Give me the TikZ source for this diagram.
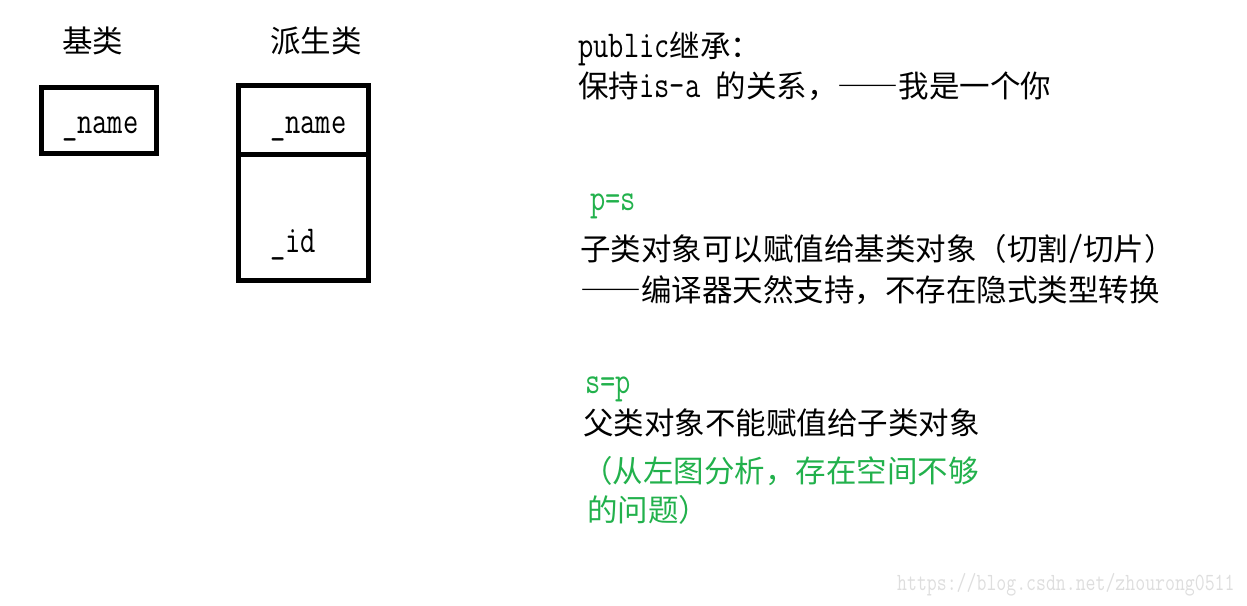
\documentclass[tikz,border=0pt]{standalone}
\usepackage{fontspec}
\setmainfont{Noto Sans CJK SC}
\setmonofont{Latin Modern Mono}[FakeStretch=0.78]
\definecolor{pgreen}{RGB}{34,177,76}
\newcommand{\tcode}[1]{{\ttfamily\fontsize{38}{40}\selectfont #1}}
\newcommand{\fdash}{{\addfontfeatures{RawFeature=+fwid}——}}
\tikzset{
	lbl/.style={anchor=base west,inner sep=0pt,font=\fontsize{30.5}{36}\selectfont},
	code/.style={anchor=base west,inner sep=0pt,font=\ttfamily\fontsize{38}{40}\selectfont},
	box/.style={line width=5pt},
}
\begin{document}
\begin{tikzpicture}[x=1pt,y=-1pt]
		\useasboundingbox (0,0) rectangle (1247,605);

		\coordinate (A) at (41.5,87.5);
		\coordinate (B) at (156,153);
		\draw[box] (A) rectangle (B);
		\node[lbl] (base) at (62,52) {基类};
		\node[code] (bname) at (62,133) {\_name};

		\coordinate (C) at (238.5,85.5);
		\coordinate (D) at (368,280.5);
		\coordinate (E) at (238.5,154);
		\coordinate (F) at (368,154);
		\draw[box] (C) rectangle (D);
		\draw[box] (E) -- (F);
		\node[lbl] (derived) at (270,52) {派生类};
		\node[code] (dname) at (270,133) {\_name};
		\node[code] (did) at (270,252) {\_id};

		\node[lbl] (pub) at (578,57) {\tcode{public}继承：};
		\node[lbl] (isa) at (578,97) {保持\tcode{is-a }的关系，\fdash 我是一个你};

		\node[code,text=pgreen] (ps) at (590,210) {p=s};
		\node[lbl] (slice) at (580,260) {子类对象可以赋值给基类对象（切割\tcode{/}切片）};
		\node[lbl] (impl) at (580,301) {\fdash 编译器天然支持，不存在隐式类型转换};

		\node[code,text=pgreen] (sp) at (585,393) {s=p};
		\node[lbl] (nope) at (583,434) {父类对象不能赋值给子类对象};
		\node[lbl,text=pgreen] (why) at (582,482) {（从左图分析，存在空间不够};
		\node[lbl,text=pgreen] (why2) at (587,521) {的问题）};

		\node[code,font=\ttfamily\fontsize{24.7}{26}\selectfont,text=black!13] (wm) at (897,590) {https://blog.csdn.net/zhourong0511};
	\end{tikzpicture}
\end{document}
